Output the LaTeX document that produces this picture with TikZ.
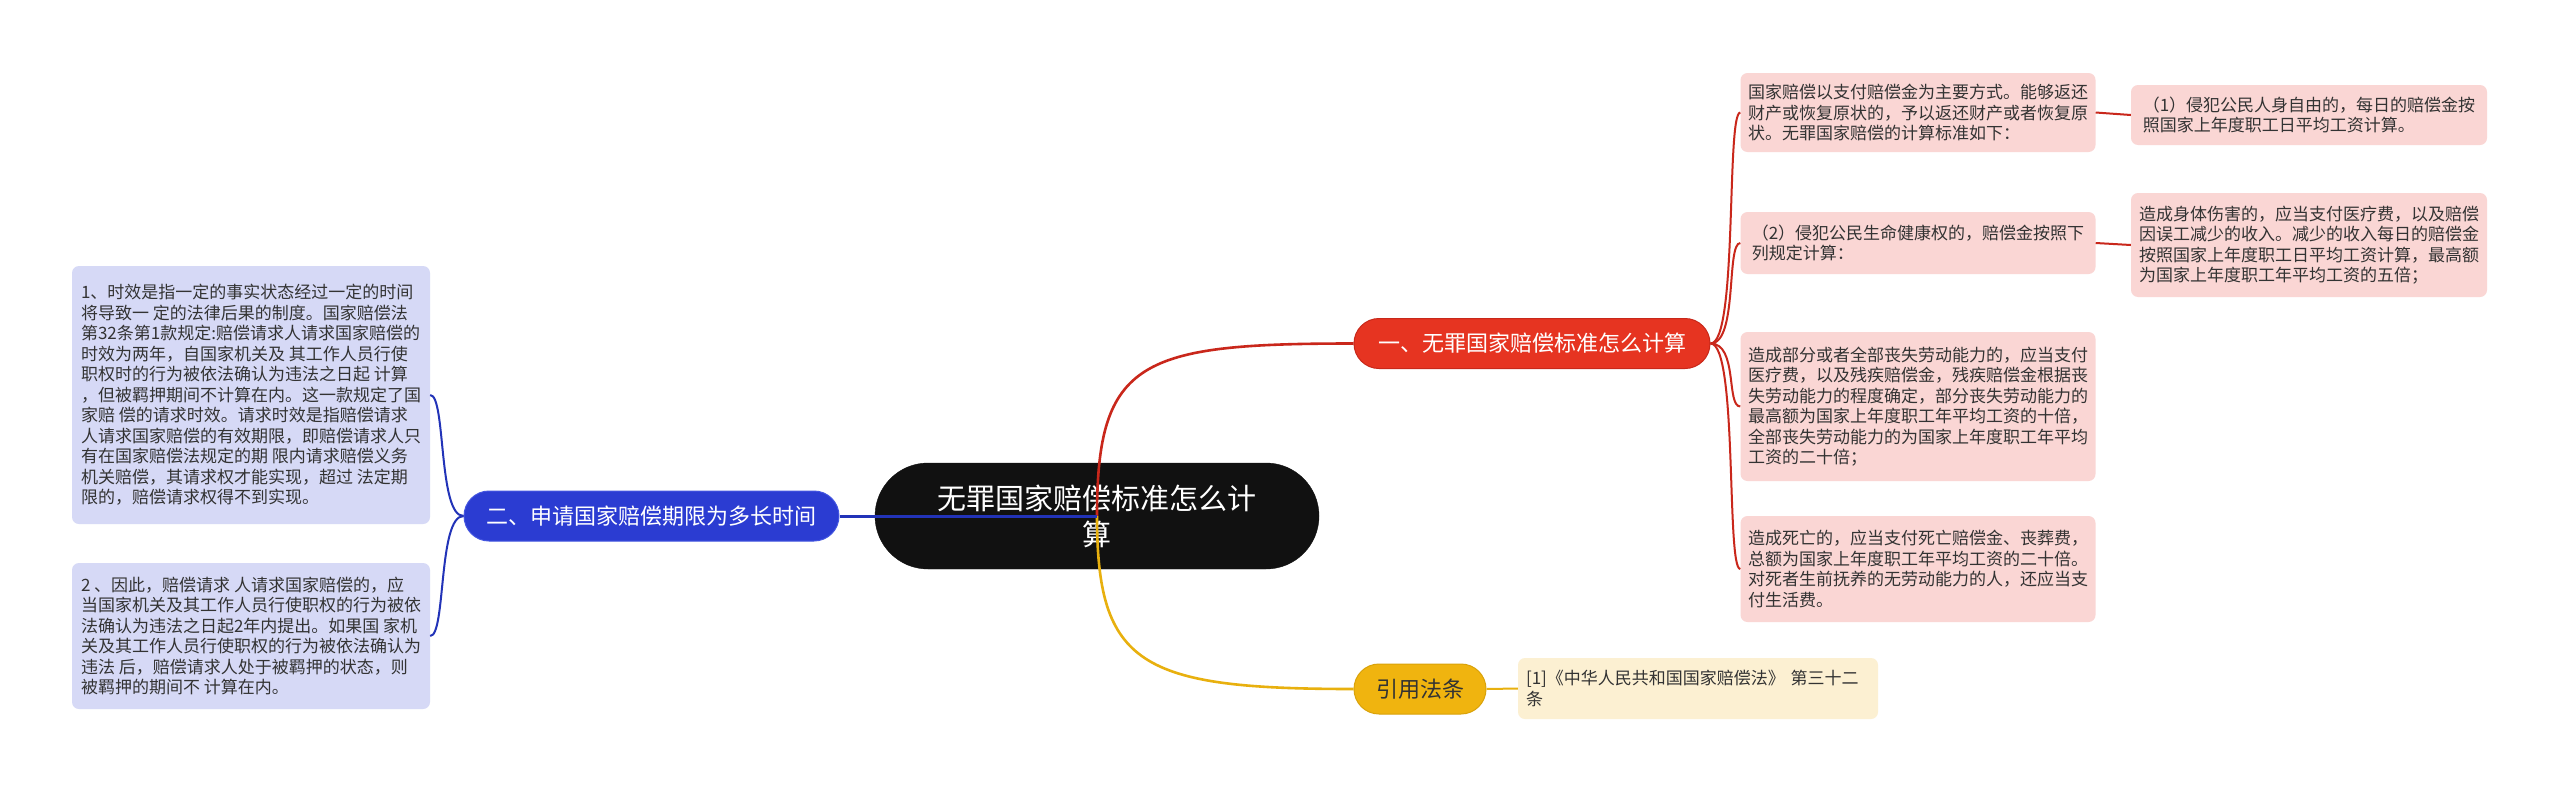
\documentclass[tikz,border=0pt]{standalone}
\usepackage{fontspec}
\setmainfont{Noto Sans CJK SC}
\definecolor{cblack}{HTML}{111111}
\definecolor{cred}{HTML}{E63421}
\definecolor{credb}{HTML}{C8281A}
\definecolor{credline}{HTML}{C9271B}
\definecolor{credleaf}{HTML}{FAD6D4}
\definecolor{cblue}{HTML}{2B3CD2}
\definecolor{cblueb}{HTML}{4456E0}
\definecolor{cblueline}{HTML}{2233B8}
\definecolor{cblueleaf}{HTML}{D6D9F6}
\definecolor{cyel}{HTML}{F0B40F}
\definecolor{cyelb}{HTML}{D9A20A}
\definecolor{cyelline}{HTML}{E8B00E}
\definecolor{cyelleaf}{HTML}{FCF0D2}
\definecolor{ctext}{HTML}{333333}
\begin{document}
\begin{tikzpicture}[x=1pt,y=-1pt,
  rootbox/.style={rectangle, rounded corners=53pt, fill=cblack, draw=cblack, text=white,
    minimum width=444pt, minimum height=106pt, align=center, inner sep=0pt,
    font=\fontsize{29pt}{36pt}\selectfont},
  mainbox/.style={rectangle, rounded corners=25pt, minimum height=50pt, inner sep=0pt,
    line width=1pt, font=\fontsize{22pt}{26pt}\selectfont},
  leafbox/.style={rectangle, rounded corners=7pt, inner sep=0pt, align=left, text=ctext,
    font=\fontsize{17pt}{20.5pt}\selectfont},
  redleaf/.style={leafbox, fill=credleaf},
  blueleaf/.style={leafbox, fill=cblueleaf},
  yelleaf/.style={leafbox, fill=cyelleaf},
  redmain/.style={line width=2.6pt, draw=credline},
  redsub/.style={line width=2pt, draw=credline},
  bluemain/.style={line width=3pt, draw=cblueline},
  bluesub/.style={line width=2pt, draw=cblueline},
  yelmain/.style={line width=2.6pt, draw=cyelline},
  yelsub/.style={line width=2pt, draw=cyelline}
]
\useasboundingbox[fill=white] (0,0) rectangle (2560,793);

% root
\node[rootbox] (root) at (1097,516) {无罪国家赔偿标准怎么计\\算};

% main branches
\node[mainbox, fill=cred, draw=credb, text=white, minimum width=356pt] (red) at (1532,343.5) {一、无罪国家赔偿标准怎么计算};
\node[mainbox, fill=cblue, draw=cblueb, text=white, minimum width=375pt] (blue) at (651.5,516) {二、申请国家赔偿期限为多长时间};
\node[mainbox, fill=cyel, draw=cyelb, text=ctext, minimum width=132pt] (yel) at (1420,689) {引用法条};

% connectors from root
\draw[redmain] (root.center) .. controls (1097,360) and (1140,343.5) .. (red.west);
\draw[yelmain] (root.center) .. controls (1097,665) and (1140,689) .. (yel.west);
\draw[bluemain] (root.center) -- (blue.east);

% red leaves
\node[redleaf, minimum width=355pt, minimum height=79pt] (l1) at (1918,112.5)
{国家赔偿以支付赔偿金为主要方式。能够返还\\财产或恢复原状的，予以返还财产或者恢复原\\状。无罪国家赔偿的计算标准如下：};
\node[redleaf, minimum width=356pt, minimum height=60pt] (l1a) at (2309,115)
{（1）侵犯公民人身自由的，每日的赔偿金按\\照国家上年度职工日平均工资计算。};
\node[redleaf, minimum width=355pt, minimum height=62pt] (l2) at (1918,243)
{（2）侵犯公民生命健康权的，赔偿金按照下\\列规定计算：};
\node[redleaf, minimum width=356pt, minimum height=104pt] (l2a) at (2309,245)
{造成身体伤害的，应当支付医疗费，以及赔偿\\因误工减少的收入。减少的收入每日的赔偿金\\按照国家上年度职工日平均工资计算，最高额\\为国家上年度职工年平均工资的五倍；};
\node[redleaf, minimum width=355pt, minimum height=149pt] (l3) at (1918,406.5)
{造成部分或者全部丧失劳动能力的，应当支付\\医疗费，以及残疾赔偿金，残疾赔偿金根据丧\\失劳动能力的程度确定，部分丧失劳动能力的\\最高额为国家上年度职工年平均工资的十倍，\\全部丧失劳动能力的为国家上年度职工年平均\\工资的二十倍；};
\node[redleaf, minimum width=355pt, minimum height=106pt] (l4) at (1918,569)
{造成死亡的，应当支付死亡赔偿金、丧葬费，\\总额为国家上年度职工年平均工资的二十倍。\\对死者生前抚养的无劳动能力的人，还应当支\\付生活费。};

\foreach \n in {l1,l2,l3,l4}
  \draw[redsub] (red.east) .. controls (1738,343.5) and (1726,0 |- \n.west) .. (\n.west);
\draw[redsub] (l1.east) -- (l1a.west);
\draw[redsub] (l2.east) -- (l2a.west);

% blue leaves
\node[blueleaf, minimum width=358pt, minimum height=258pt] (b1) at (251,395)
{1、时效是指一定的事实状态经过一定的时间\\将导致一 定的法律后果的制度。国家赔偿法\\第32条第1款规定:赔偿请求人请求国家赔偿的\\时效为两年，自国家机关及 其工作人员行使\\职权时的行为被依法确认为违法之日起 计算\\，但被羁押期间不计算在内。这一款规定了国\\家赔 偿的请求时效。请求时效是指赔偿请求\\人请求国家赔偿的有效期限，即赔偿请求人只\\有在国家赔偿法规定的期 限内请求赔偿义务\\机关赔偿，其请求权才能实现，超过 法定期\\限的，赔偿请求权得不到实现。};
\node[blueleaf, minimum width=358pt, minimum height=146pt] (b2) at (251,636)
{2 、因此，赔偿请求 人请求国家赔偿的，应\\当国家机关及其工作人员行使职权的行为被依\\法确认为违法之日起2年内提出。如果国 家机\\关及其工作人员行使职权的行为被依法确认为\\违法 后，赔偿请求人处于被羁押的状态，则\\被羁押的期间不 计算在内。};

\draw[bluesub] (blue.west) .. controls (438,516) and (446,395) .. (b1.east);
\draw[bluesub] (blue.west) .. controls (438,516) and (446,636) .. (b2.east);

% yellow leaf
\node[yelleaf, minimum width=360pt, minimum height=61pt, text width=344pt] (y1) at (1698,688.5)
{[1]《中华人民共和国国家赔偿法》~第三十二\\条};
\draw[yelsub] (yel.east) -- (y1.west);
\end{tikzpicture}
\end{document}
